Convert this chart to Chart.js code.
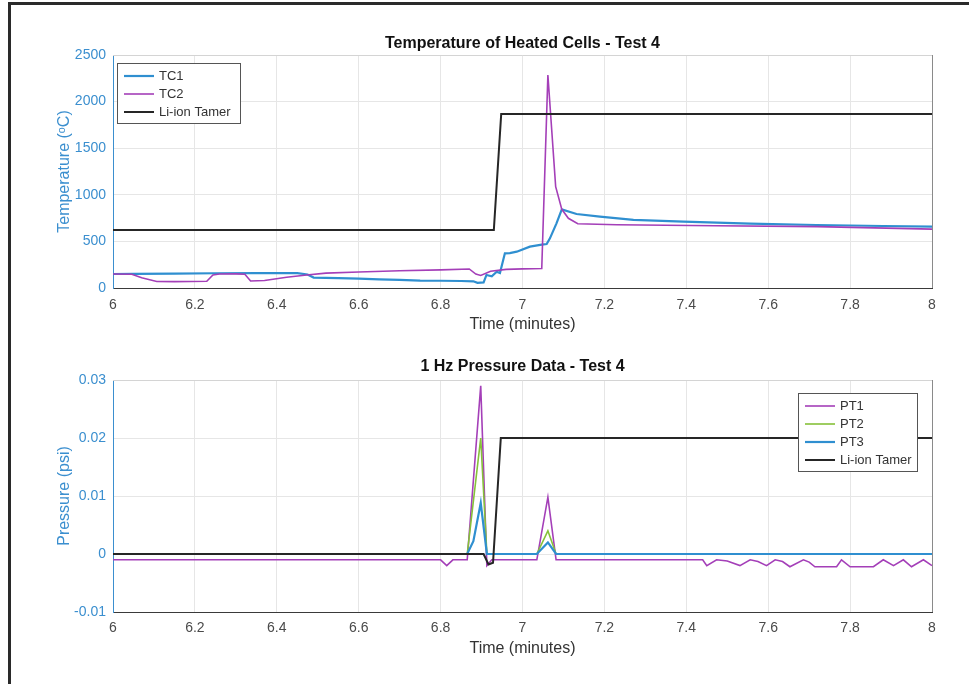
<!DOCTYPE html>
<html>
<head>
<meta charset="utf-8">
<script src="https://cdn.jsdelivr.net/npm/chart.js@4.4.1/dist/chart.umd.min.js"></script>
<style>
  body { margin: 0; background: #fff; }
  #page { position: relative; width: 969px; height: 684px; overflow: hidden; }
  #frame { position: absolute; left: 8px; top: 2px; width: 980px; height: 700px;
           border-left: 3px solid #2a2a2a; border-top: 3px solid #2a2a2a; }
  canvas { position: absolute; left: 0; }
  #temp-chart { top: 0; }
  #press-chart { top: 340px; }
</style>
</head>
<body>
<div id="page">
  <canvas id="temp-chart" width="969" height="340"></canvas>
  <canvas id="press-chart" width="969" height="344"></canvas>
  <div id="frame"></div>
</div>
<script>
// ===== data =====
const xTickValues = [6, 6.2, 6.4, 6.6, 6.8, 7, 7.2, 7.4, 7.6, 7.8, 8];
const xTickLabels = ["6", "6.2", "6.4", "6.6", "6.8", "7", "7.2", "7.4", "7.6", "7.8", "8"];
const tempTickValues = [0, 500, 1000, 1500, 2000, 2500];
const tempTickLabels = ["0", "500", "1000", "1500", "2000", "2500"];
const pressTickValues = [-0.01, 0, 0.01, 0.02, 0.03];
const pressTickLabels = ["-0.01", "0", "0.01", "0.02", "0.03"];

// top plot: temperature (°C) vs time (minutes)
const tc1Time = [6.00, 6.05, 6.15, 6.25, 6.35, 6.45, 6.475, 6.49, 6.55, 6.60, 6.65, 6.70, 6.75, 6.80, 6.85, 6.88, 6.89, 6.905, 6.912, 6.925, 6.937, 6.945, 6.957, 6.969, 6.986, 7.018, 7.047, 7.059, 7.067, 7.083, 7.096, 7.132, 7.189, 7.271, 7.393, 7.556, 7.718, 7.881, 8.00];
const tc1Temp = [150, 152, 155, 158, 160, 160, 145, 112, 105, 100, 92, 88, 80, 78, 75, 72, 55, 60, 140, 125, 175, 160, 372, 375, 390, 444, 465, 472, 533, 694, 844, 794, 765, 730, 712, 690, 676, 665, 658];
const tc2Time = [6.00, 6.046, 6.07, 6.107, 6.15, 6.229, 6.244, 6.26, 6.30, 6.322, 6.336, 6.37, 6.424, 6.473, 6.52, 6.60, 6.70, 6.80, 6.87, 6.886, 6.898, 6.922, 6.96, 7.00, 7.047, 7.062, 7.081, 7.096, 7.112, 7.135, 7.23, 7.47, 7.72, 8.00];
const tc2Temp = [150, 148, 110, 70, 68, 72, 140, 150, 152, 148, 75, 80, 115, 140, 160, 172, 185, 195, 204, 150, 135, 180, 200, 205, 210, 2285, 1087, 844, 748, 690, 678, 668, 658, 632];
const tamerTempTime = [6.00, 6.93, 6.948, 8.00];
const tamerTemp = [622, 622, 1868, 1868];

// bottom plot: pressure (psi) vs time (minutes)
const pt1Time = [6.00, 6.80, 6.815, 6.83, 6.865, 6.898, 6.913, 6.925, 7.035, 7.062, 7.082, 7.44, 7.45, 7.474, 7.50, 7.531, 7.556, 7.575, 7.596, 7.617, 7.635, 7.653, 7.686, 7.70, 7.714, 7.767, 7.779, 7.80, 7.857, 7.881, 7.906, 7.93, 7.95, 7.979, 8.00];
const pt1Press = [-0.001, -0.001, -0.002, -0.001, -0.001, 0.029, -0.002, -0.001, -0.001, 0.0098, -0.001, -0.001, -0.002, -0.001, -0.0012, -0.002, -0.001, -0.0013, -0.002, -0.001, -0.0013, -0.0022, -0.001, -0.0014, -0.0022, -0.0022, -0.001, -0.0022, -0.0022, -0.001, -0.002, -0.001, -0.0022, -0.001, -0.002];
const pt2Time = [6.00, 6.865, 6.898, 6.913, 7.035, 7.062, 7.082, 8.00];
const pt2Press = [0, 0, 0.02, 0, 0, 0.004, 0, 0];
const pt3Time = [6.00, 6.865, 6.88, 6.898, 6.913, 7.035, 7.062, 7.082, 8.00];
const pt3Press = [0, 0, 0.0022, 0.0088, 0, 0, 0.002, 0, 0];
const tamerPressTime = [6.00, 6.905, 6.917, 6.928, 6.947, 8.00];
const tamerPress = [0, 0, -0.0018, -0.0015, 0.02, 0.02];

// ===== styling =====
const FONT = "'Liberation Sans', Arial, Helvetica, sans-serif";
const BLUE = "#2f8fd0";
const AXIS_BLUE = "#3b8fcf";
const PURPLE = "#a43fb8";
const GREEN = "#86c13a";
const BLACK = "#262626";
const GRID = "#e6e6e6";

function toPoints(xs, ys) {
  return xs.map((x, i) => ({ x, y: ys[i] }));
}

function series(label, xs, ys, color, width, order) {
  return {
    label,
    data: toPoints(xs, ys),
    borderColor: color,
    backgroundColor: color,
    borderWidth: width,
    pointRadius: 0,
    tension: 0,
    fill: false,
    order, // lower order drawn later (on top), like MATLAB plot order
  };
}

// box (top + right edges) and in-axes legend
const axesBoxPlugin = {
  id: "axesBox",
  afterDraw(chart, args, opts) {
    const { ctx, chartArea: a } = chart;
    ctx.save();
    ctx.lineWidth = 1;
    ctx.strokeStyle = "#d4d4d4";
    ctx.beginPath();
    ctx.moveTo(a.left, a.top + 0.5);
    ctx.lineTo(a.right, a.top + 0.5);
    ctx.stroke();
    ctx.strokeStyle = "#8a8a8a";
    ctx.beginPath();
    ctx.moveTo(a.right + 0.5, a.top);
    ctx.lineTo(a.right + 0.5, a.bottom);
    ctx.stroke();

    // legend
    const items = chart.data.datasets.map(d => ({ label: d.label, color: d.borderColor, width: d.borderWidth }));
    const x = opts.anchor === "right" ? a.right - opts.dx - opts.w : a.left + opts.dx;
    const y = a.top + opts.dy;
    const rowH = opts.rowH;
    const h = rowH * items.length + 6;
    ctx.fillStyle = "#fff";
    ctx.fillRect(x, y, opts.w, h);
    ctx.strokeStyle = "#555";
    ctx.strokeRect(x + 0.5, y + 0.5, opts.w, h);
    ctx.font = "13px " + FONT;
    ctx.textBaseline = "middle";
    ctx.textAlign = "left";
    items.forEach((it, i) => {
      const cy = y + 3 + rowH * i + rowH / 2 + 1;
      ctx.strokeStyle = it.color;
      ctx.lineWidth = it.width;
      ctx.beginPath();
      ctx.moveTo(x + 7, cy);
      ctx.lineTo(x + 37, cy);
      ctx.stroke();
      ctx.fillStyle = "#333";
      ctx.fillText(it.label, x + 42, cy);
    });
    ctx.restore();
  },
};

function makeOptions(cfg) {
  return {
    responsive: false,
    animation: false,
    devicePixelRatio: 1,
    layout: { padding: cfg.padding },
    plugins: {
      legend: { display: false },
      tooltip: { enabled: false },
      title: {
        display: true,
        fullSize: false,
        text: cfg.title,
        color: "#111",
        font: { family: FONT, size: 16, weight: "bold" },
        padding: cfg.titlePadding,
      },
      axesBox: cfg.legend,
    },
    scales: {
      x: {
        type: "linear",
        min: 6,
        max: 8,
        afterBuildTicks: s => { s.ticks = xTickValues.map(v => ({ value: v })); },
        afterFit: s => { s.height = cfg.xHeight; },
        ticks: {
          autoSkip: false,
          maxRotation: 0,
          padding: cfg.xTickPad,
          color: "#4a4a4a",
          font: { family: FONT, size: 14 },
          callback: (v, i) => xTickLabels[i],
        },
        grid: { color: GRID, drawTicks: false },
        border: { color: "#3a3a3a", width: 1 },
        title: {
          display: true,
          text: "Time (minutes)",
          color: "#333",
          font: { family: FONT, size: 16 },
          padding: { top: 0, bottom: 4 },
        },
      },
      y: {
        type: "linear",
        min: cfg.yMin,
        max: cfg.yMax,
        afterBuildTicks: s => { s.ticks = cfg.yTicks.map(v => ({ value: v })); },
        afterFit: s => { s.width = 63; },
        ticks: {
          autoSkip: false,
          padding: 7,
          color: AXIS_BLUE,
          font: { family: FONT, size: 14 },
          callback: (v, i) => cfg.yLabels[i],
        },
        grid: { color: GRID, drawTicks: false },
        border: { color: AXIS_BLUE, width: 1 },
        title: {
          display: true,
          text: cfg.yTitle,
          color: AXIS_BLUE,
          font: { family: FONT, size: 16 },
          padding: { top: 5, bottom: 0 },
        },
      },
    },
  };
}

new Chart(document.getElementById("temp-chart"), {
  type: "line",
  data: {
    datasets: [
      series("TC1", tc1Time, tc1Temp, BLUE, 2.2, 3),
      series("TC2", tc2Time, tc2Temp, PURPLE, 1.6, 2),
      series("Li-ion Tamer", tamerTempTime, tamerTemp, BLACK, 2, 1),
    ],
  },
  options: makeOptions({
    title: "Temperature of Heated Cells - Test 4",
    padding: { left: 50, right: 37, top: 28, bottom: 2 },
    titlePadding: { top: 6.4, bottom: 1.4 },
    xHeight: 50,
    xTickPad: 9,
    yMin: 0,
    yMax: 2500,
    yTicks: tempTickValues,
    yLabels: tempTickLabels,
    yTitle: "Temperature (ᵒC)",
    legend: { anchor: "left", dx: 4, dy: 8, w: 123, rowH: 18 },
  }),
  plugins: [axesBoxPlugin],
});

new Chart(document.getElementById("press-chart"), {
  type: "line",
  data: {
    datasets: [
      series("PT1", pt1Time, pt1Press, PURPLE, 1.6, 4),
      series("PT2", pt2Time, pt2Press, GREEN, 1.6, 3),
      series("PT3", pt3Time, pt3Press, BLUE, 2.2, 2),
      series("Li-ion Tamer", tamerPressTime, tamerPress, BLACK, 2, 1),
    ],
  },
  options: makeOptions({
    title: "1 Hz Pressure Data - Test 4",
    padding: { left: 50, right: 37, top: 14, bottom: 22 },
    titlePadding: { top: 3.1, bottom: 3.7 },
    xHeight: 50,
    xTickPad: 8,
    yMin: -0.01,
    yMax: 0.03,
    yTicks: pressTickValues,
    yLabels: pressTickLabels,
    yTitle: "Pressure (psi)",
    legend: { anchor: "right", dx: 15, dy: 13, w: 119, rowH: 18 },
  }),
  plugins: [axesBoxPlugin],
});
</script>
</body>
</html>
